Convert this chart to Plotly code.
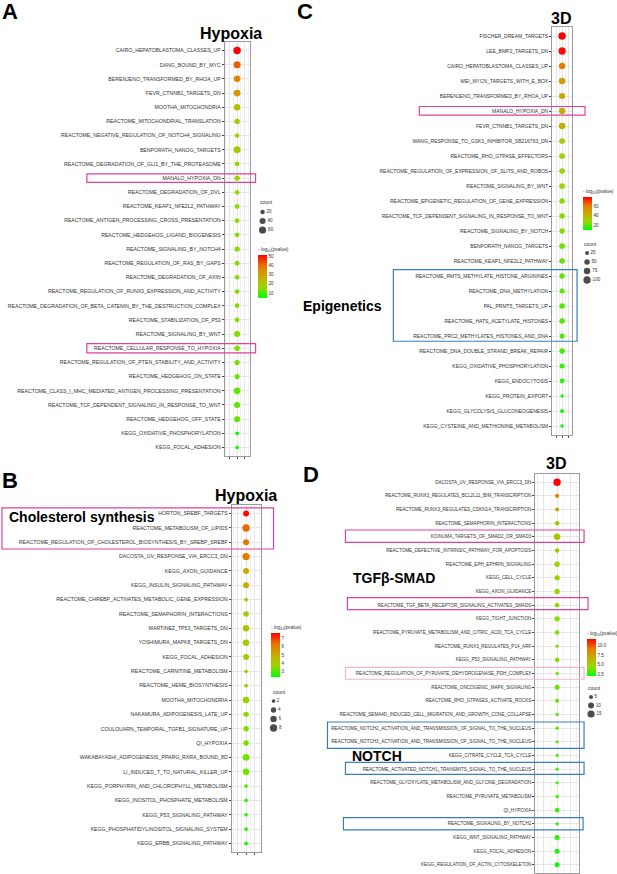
import numpy as np
import plotly.graph_objects as go

W, H = 617, 874

# ---------------- Panel A (Hypoxia) ----------------
a_terms = [
    "CAIRO_HEPATOBLASTOMA_CLASSES_UP", "DANG_BOUND_BY_MYC", "BERENJENO_TRANSFORMED_BY_RHOA_UP",
    "FEVR_CTNNB1_TARGETS_DN", "MOOTHA_MITOCHONDRIA", "REACTOME_MITOCHONDRIAL_TRANSLATION",
    "REACTOME_NEGATIVE_REGULATION_OF_NOTCH4_SIGNALING", "BENPORATH_NANOG_TARGETS",
    "REACTOME_DEGRADATION_OF_GLI1_BY_THE_PROTEASOME", "MANALO_HYPOXIA_DN",
    "REACTOME_DEGRADATION_OF_DVL", "REACTOME_KEAP1_NFE2L2_PATHWAY",
    "REACTOME_ANTIGEN_PROCESSING_CROSS_PRESENTATION", "REACTOME_HEDGEHOG_LIGAND_BIOGENESIS",
    "REACTOME_SIGNALING_BY_NOTCH4", "REACTOME_REGULATION_OF_RAS_BY_GAPS",
    "REACTOME_DEGRADATION_OF_AXIN", "REACTOME_REGULATION_OF_RUNX3_EXPRESSION_AND_ACTIVITY",
    "REACTOME_DEGRADATION_OF_BETA_CATENIN_BY_THE_DESTRUCTION_COMPLEX",
    "REACTOME_STABILIZATION_OF_P53", "REACTOME_SIGNALING_BY_WNT",
    "REACTOME_CELLULAR_RESPONSE_TO_HYPOXIA", "REACTOME_REGULATION_OF_PTEN_STABILITY_AND_ACTIVITY",
    "REACTOME_HEDGEHOG_ON_STATE", "REACTOME_CLASS_I_MHC_MEDIATED_ANTIGEN_PROCESSING_PRESENTATION",
    "REACTOME_TCF_DEPENDENT_SIGNALING_IN_RESPONSE_TO_WNT", "REACTOME_HEDGEHOG_OFF_STATE",
    "KEGG_OXIDATIVE_PHOSPHORYLATION", "KEGG_FOCAL_ADHESION",
]
a_logp = [51.5, 42, 36, 33, 22, 19, 18, 20, 17, 17, 16, 16, 16, 15, 15, 15, 15, 15, 15, 15,
          14, 14, 13, 13, 12, 12, 12, 6, 5]
a_count = [64, 56, 48, 50, 45, 30, 20, 55, 22, 30, 22, 24, 24, 22, 28, 24, 22, 22, 23, 22,
           40, 30, 26, 27, 50, 40, 35, 15, 14]
a_legend_counts = [20, 40, 60]
a_cbar_ticks = [10, 20, 30, 40, 50]

# ---------------- Panel B (Hypoxia) ----------------
b_terms = [
    "HORTON_SREBF_TARGETS", "REACTOME_METABOLISM_OF_LIPIDS",
    "REACTOME_REGULATION_OF_CHOLESTEROL_BIOSYNTHESIS_BY_SREBP_SREBF",
    "DACOSTA_UV_RESPONSE_VIA_ERCC3_DN", "KEGG_AXON_GUIDANCE", "KEGG_INSULIN_SIGNALING_PATHWAY",
    "REACTOME_CHREBP_ACTIVATES_METABOLIC_GENE_EXPRESSION", "REACTOME_SEMAPHORIN_INTERACTIONS",
    "MARTINEZ_TP53_TARGETS_DN", "YOSHIMURA_MAPK8_TARGETS_DN", "KEGG_FOCAL_ADHESION",
    "REACTOME_CARNITINE_METABOLISM", "REACTOME_HEME_BIOSYNTHESIS", "MOOTHA_MITOCHONDRIA",
    "NAKAMURA_ADIPOGENESIS_LATE_UP", "COULOUARN_TEMPORAL_TGFB1_SIGNATURE_UP", "QI_HYPOXIA",
    "WAKABAYASHI_ADIPOGENESIS_PPARG_RXRA_BOUND_8D", "LI_INDUCED_T_TO_NATURAL_KILLER_UP",
    "KEGG_PORPHYRIN_AND_CHLOROPHYLL_METABOLISM", "KEGG_INOSITOL_PHOSPHATE_METABOLISM",
    "KEGG_P53_SIGNALING_PATHWAY", "KEGG_PHOSPHATIDYLINOSITOL_SIGNALING_SYSTEM",
    "KEGG_ERBB_SIGNALING_PATHWAY",
]
b_logp = [7.6, 6.5, 6.3, 6.2, 5.0, 4.9, 4.6, 4.3, 4.2, 4.1, 4.0, 4.0, 4.0, 3.8, 3.6, 3.5,
          3.4, 3.3, 3.3, 3.0, 2.9, 2.8, 2.6, 2.4]
b_count = [5, 8, 5, 8, 5, 5, 2, 4, 6, 6, 5, 2, 2, 6, 4, 4, 4, 7, 6, 2, 2, 2, 2, 2]
b_legend_counts = [2, 4, 6, 8]
b_cbar_ticks = [3, 4, 5, 6, 7]

# ---------------- Panel C (3D) ----------------
c_terms = [
    "FISCHER_DREAM_TARGETS", "LEE_BMP2_TARGETS_DN", "CAIRO_HEPATOBLASTOMA_CLASSES_UP",
    "WEI_MYCN_TARGETS_WITH_E_BOX", "BERENJENO_TRANSFORMED_BY_RHOA_UP", "MANALO_HYPOXIA_DN",
    "FEVR_CTNNB1_TARGETS_DN", "WANG_RESPONSE_TO_GSK3_INHIBITOR_SB216763_DN",
    "REACTOME_RHO_GTPASE_EFFECTORS", "REACTOME_REGULATION_OF_EXPRESSION_OF_SLITS_AND_ROBOS",
    "REACTOME_SIGNALING_BY_WNT", "REACTOME_EPIGENETIC_REGULATION_OF_GENE_EXPRESSION",
    "REACTOME_TCF_DEPENDENT_SIGNALING_IN_RESPONSE_TO_WNT", "REACTOME_SIGNALING_BY_NOTCH",
    "BENPORATH_NANOG_TARGETS", "REACTOME_KEAP1_NFE2L2_PATHWAY",
    "REACTOME_RMTS_METHYLATE_HISTONE_ARGININES", "REACTOME_DNA_METHYLATION",
    "PAL_PRMT5_TARGETS_UP", "REACTOME_HATS_ACETYLATE_HISTONES",
    "REACTOME_PRC2_METHYLATES_HISTONES_AND_DNA", "REACTOME_DNA_DOUBLE_STRAND_BREAK_REPAIR",
    "KEGG_OXIDATIVE_PHOSPHORYLATION", "KEGG_ENDOCYTOSIS", "KEGG_PROTEIN_EXPORT",
    "KEGG_GLYCOLYSIS_GLUCONEOGENESIS", "KEGG_CYSTEINE_AND_METHIONINE_METABOLISM",
]
c_logp = [80, 78, 62, 50, 47, 46, 44, 32, 30, 28, 28, 26, 26, 25, 23, 22, 21, 20, 20, 20,
          19, 18, 16, 15, 13, 12, 11]
c_count = [105, 100, 70, 75, 65, 70, 75, 55, 55, 50, 55, 50, 50, 50, 55, 50, 45, 40, 50, 50,
           42, 50, 40, 38, 20, 25, 20]
c_legend_counts = [25, 50, 75, 100]
c_cbar_ticks = [20, 40, 60]

# ---------------- Panel D (3D) ----------------
d_terms = [
    "DACOSTA_UV_RESPONSE_VIA_ERCC3_DN", "REACTOME_RUNX3_REGULATES_BCL2L11_BIM_TRANSCRIPTION",
    "REACTOME_RUNX3_REGULATES_CDKN1A_TRANSCRIPTION", "REACTOME_SEMAPHORIN_INTERACTIONS",
    "KOINUMA_TARGETS_OF_SMAD2_OR_SMAD3", "REACTOME_DEFECTIVE_INTRINSIC_PATHWAY_FOR_APOPTOSIS",
    "REACTOME_EPH_EPHRIN_SIGNALING", "KEGG_CELL_CYCLE", "KEGG_AXON_GUIDANCE",
    "REACTOME_TGF_BETA_RECEPTOR_SIGNALING_ACTIVATES_SMADS", "KEGG_TIGHT_JUNCTION",
    "REACTOME_PYRUVATE_METABOLISM_AND_CITRIC_ACID_TCA_CYCLE", "REACTOME_RUNX3_REGULATES_P14_ARF",
    "KEGG_P53_SIGNALING_PATHWAY", "REACTOME_REGULATION_OF_PYRUVATE_DEHYDROGENASE_PDH_COMPLEX",
    "REACTOME_ONCOGENIC_MAPK_SIGNALING", "REACTOME_RHO_GTPASES_ACTIVATE_ROCKS",
    "REACTOME_SEMA4D_INDUCED_CELL_MIGRATION_AND_GROWTH_CONE_COLLAPSE",
    "REACTOME_NOTCH2_ACTIVATION_AND_TRANSMISSION_OF_SIGNAL_TO_THE_NUCLEUS",
    "REACTOME_NOTCH3_ACTIVATION_AND_TRANSMISSION_OF_SIGNAL_TO_THE_NUCLEUS",
    "KEGG_CITRATE_CYCLE_TCA_CYCLE", "REACTOME_ACTIVATED_NOTCH1_TRANSMITS_SIGNAL_TO_THE_NUCLEUS",
    "REACTOME_GLYOXYLATE_METABOLISM_AND_GLYCINE_DEGRADATION", "REACTOME_PYRUVATE_METABOLISM",
    "QI_HYPOXIA", "REACTOME_SIGNALING_BY_NOTCH2", "KEGG_WNT_SIGNALING_PATHWAY",
    "KEGG_FOCAL_ADHESION", "KEGG_REGULATION_OF_ACTIN_CYTOSKELETON",
]
d_logp = [11.7, 9.2, 7.0, 5.5, 5.2, 4.8, 4.7, 4.6, 4.5, 4.4, 4.2, 4.1, 4.0, 4.0, 3.8, 3.7,
          3.6, 3.5, 3.4, 3.4, 3.3, 3.2, 3.1, 3.0, 2.9, 2.8, 2.6, 2.4, 2.2]
d_count = [16, 5, 5, 6, 12, 6, 8, 8, 8, 6, 8, 6, 4, 6, 4, 7, 5, 4, 4, 4, 4, 4, 4, 4, 6, 4,
           7, 7, 7]
d_legend_counts = [5, 10, 15]
d_cbar_ticks = [2.5, 5.0, 7.5, 10.0]

group_pos = 1.0  # single sample group on each panel's x axis

# ---------------- styling helpers ----------------
def fx(p):
    return p / W

def fy(p):
    return 1 - p / H

COLORSCALE = [[0, "#00FF00"], [0.25, "#98D700"], [0.5, "#C9AB00"], [0.75, "#E87600"], [1, "#FF0000"]]
FONT = "Liberation Sans, Arial, sans-serif"
PINK = "#E0409A"
LPINK = "#F2B3D3"
BLUE = "#3A7DBE"


def diam(v, lo, hi, dmin=2.3, dmax=7.5):
    t = np.clip((np.asarray(v, float) - lo) / (hi - lo), 0, 1)
    return dmin + (dmax - dmin) * np.sqrt(t)


panels = [
    dict(terms=a_terms, logp=a_logp, count=a_count, leg=a_legend_counts, ticks=a_cbar_ticks,
         dom_x=(225, 250), dom_y=(42, 456), fs=5.2, cmin=4.5, cmax=51.5, slo=10, shi=66,
         cb=dict(x=258, top=244, len=54), cnt_title=(258, 202), leg_x=(259, 267), leg_y=(207.5, 234.5),
         title="Hypoxia", title_xy=(231, 33)),
    dict(terms=b_terms, logp=b_logp, count=b_count, leg=b_legend_counts, ticks=b_cbar_ticks,
         dom_x=(232, 261), dom_y=(505, 852), fs=5.2, cmin=2.3, cmax=7.7, slo=1.5, shi=8.5,
         cb=dict(x=271, top=622, len=55), cnt_title=(271, 692), leg_x=(270, 278), leg_y=(696.5, 732.5),
         title="Hypoxia", title_xy=(246, 495)),
    dict(terms=c_terms, logp=c_logp, count=c_count, leg=c_legend_counts, ticks=c_cbar_ticks,
         dom_x=(553, 573), dom_y=(27, 435), fs=5.0, cmin=10, cmax=80, slo=15, shi=108,
         cb=dict(x=583, top=186, len=44), cnt_title=(583, 244), leg_x=(584, 592), leg_y=(248.5, 284.5),
         title="3D", title_xy=(562, 18)),
    dict(terms=d_terms, logp=d_logp, count=d_count, leg=d_legend_counts, ticks=d_cbar_ticks,
         dom_x=(536, 580), dom_y=(474, 873), fs=4.6, cmin=2.0, cmax=11.7, slo=3.5, shi=16.5,
         cb=dict(x=587, top=628, len=48), cnt_title=(587, 688), leg_x=(588, 596), leg_y=(692.75, 718.25),
         title="3D", title_xy=(557, 463)),
]

fig = go.Figure()
layout = dict(width=W, height=H, margin=dict(l=0, r=0, t=0, b=0), paper_bgcolor="white",
              plot_bgcolor="white", showlegend=False, font=dict(family=FONT, color="#333333"))
annotations = []
shapes = []

for i, p in enumerate(panels):
    k = i + 1
    sfx = "" if k == 1 else str(k)
    n = len(p["terms"])
    ca = "coloraxis" + sfx
    fig.add_trace(go.Scatter(
        x=[group_pos] * n, y=p["terms"], mode="markers",
        xaxis="x" + sfx, yaxis="y" + sfx,
        marker=dict(color=p["logp"], coloraxis=ca, size=diam(p["count"], p["slo"], p["shi"]),
                    line=dict(width=0), opacity=1),
        hoverinfo="skip"))
    layout["xaxis" + sfx] = dict(
        domain=[fx(p["dom_x"][0]), fx(p["dom_x"][1])], anchor="y" + sfx, range=[0.5, 1.5],
        tickmode="array", tickvals=[0.7, 1.0, 1.3], showticklabels=False, ticks="outside",
        ticklen=2, tickcolor="#555555", tickwidth=0.6, showgrid=True, gridcolor="#E6E6E6",
        gridwidth=0.6, minor=dict(tickvals=[0.55, 0.85, 1.15, 1.45], showgrid=True,
                                  gridcolor="#F2F2F2", gridwidth=0.5),
        zeroline=False, showline=True, mirror=True, linecolor="#9A9A9A", linewidth=0.8,
        fixedrange=True)
    layout["yaxis" + sfx] = dict(
        domain=[fy(p["dom_y"][1]), fy(p["dom_y"][0])], anchor="x" + sfx, type="category",
        categoryorder="array", categoryarray=p["terms"], range=[n - 1 + 0.6, -0.6],
        ticks="outside", ticklen=2, tickcolor="#444444", tickwidth=0.6,
        tickfont=dict(size=p["fs"], color="#333333", family=FONT), showgrid=True,
        gridcolor="#E6E6E6", gridwidth=0.6, zeroline=False, showline=True, mirror=True,
        linecolor="#9A9A9A", linewidth=0.8, fixedrange=True)
    cb = p["cb"]
    layout[ca] = dict(
        cmin=p["cmin"], cmax=p["cmax"], colorscale=COLORSCALE,
        colorbar=dict(
            x=fx(cb["x"]), xanchor="left", y=fy(cb["top"]), yanchor="top",
            lenmode="pixels", len=cb["len"], thicknessmode="pixels", thickness=9,
            outlinewidth=0, xpad=0, ypad=0, ticks="", tickvals=p["ticks"],
            ticktext=[("%.1f" % t) if k == 4 else ("%g" % t) for t in p["ticks"]],
            tickfont=dict(size=4.6, color="#333333", family=FONT),
            title=dict(text="- log<sub>10</sub>(pvalue)", side="top",
                       font=dict(size=4.8, color="#333333", family=FONT))))
    # size legend (count)
    lk = str(k + 4)
    leg = p["leg"]
    fig.add_trace(go.Scatter(
        x=[0] * len(leg), y=[str(v) for v in leg], mode="markers+text",
        text=[str(v) for v in leg], textposition="middle right",
        textfont=dict(size=4.6, color="#333333", family=FONT),
        xaxis="x" + lk, yaxis="y" + lk, cliponaxis=False,
        marker=dict(color="black", size=diam(leg, p["slo"], p["shi"]), line=dict(width=0)),
        hoverinfo="skip"))
    layout["xaxis" + lk] = dict(domain=[fx(p["leg_x"][0]), fx(p["leg_x"][1])], anchor="y" + lk,
                               range=[-1, 1], visible=False, fixedrange=True)
    layout["yaxis" + lk] = dict(domain=[fy(p["leg_y"][1]), fy(p["leg_y"][0])], anchor="x" + lk,
                               type="category", categoryarray=[str(v) for v in leg],
                               range=[len(leg) - 0.5, -0.5], visible=False, fixedrange=True)
    annotations.append(dict(text="count", x=fx(p["cnt_title"][0]), y=fy(p["cnt_title"][1]),
                            xref="paper", yref="paper", xanchor="left", yanchor="middle",
                            showarrow=False, font=dict(size=5, color="#333333", family=FONT)))
    tx, ty = p["title_xy"]
    annotations.append(dict(text="<b>%s</b>" % p["title"], x=fx(tx), y=fy(ty), xref="paper",
                            yref="paper", xanchor="center", yanchor="middle", showarrow=False,
                            font=dict(size=16, color="black", family=FONT)))

# panel letters
for letter, (lx, ly) in zip("ABCD", [(10, 12), (10, 480), (305, 12), (312, 474)]):
    annotations.append(dict(text="<b>%s</b>" % letter, x=fx(lx), y=fy(ly), xref="paper",
                            yref="paper", xanchor="center", yanchor="middle", showarrow=False,
                            font=dict(size=22, color="black", family=FONT)))

# group labels
for txt, (gx, gy) in [("Cholesterol synthesis", (7, 517)), ("Epigenetics", (301, 306)),
                      ("TGFβ-SMAD", (352, 578)), ("NOTCH", (351, 756))]:
    annotations.append(dict(text="<b>%s</b>" % txt, x=fx(gx), y=fy(gy), xref="paper",
                            yref="paper", xanchor="left", yanchor="middle", showarrow=False,
                            font=dict(size=14, color="black", family=FONT)))


def box(x0, x1, yaxis, r0, r1, color, width=1.2):
    shapes.append(dict(type="rect", xref="paper", yref=yaxis, x0=fx(x0), x1=fx(x1),
                       y0=r0, y1=r1, line=dict(color=color, width=width),
                       fillcolor="rgba(0,0,0,0)"))


# highlight boxes (row indices on each panel's categorical axis)
box(87, 256, "y", 9 - 0.3, 9 + 0.3, PINK)
box(87, 256, "y", 21 - 0.33, 21 + 0.33, PINK)
box(2, 274, "y2", -0.4, 2 + 0.47, PINK)
box(420, 586, "y3", 5 - 0.3, 5 + 0.27, PINK)
box(394, 578, "y3", 16 - 0.42, 20 + 0.35, BLUE)
box(346, 585, "y4", 4 - 0.5, 4 + 0.4, PINK)
box(348, 589, "y4", 9 - 0.55, 9 + 0.32, PINK)
box(346, 585, "y4", 14 - 0.45, 14 + 0.42, LPINK)
box(328, 585, "y4", 18 - 0.45, 19 + 0.48, BLUE)
box(346, 585, "y4", 21 - 0.5, 21 + 0.38, BLUE)
box(344, 584, "y4", 25 - 0.45, 25 + 0.45, BLUE)

layout["annotations"] = annotations
layout["shapes"] = shapes
fig.update_layout(**layout)
fig.write_html("out.html", config={"displayModeBar": False},
               post_script="document.body.style.margin='0px';document.body.style.overflow='hidden';")
